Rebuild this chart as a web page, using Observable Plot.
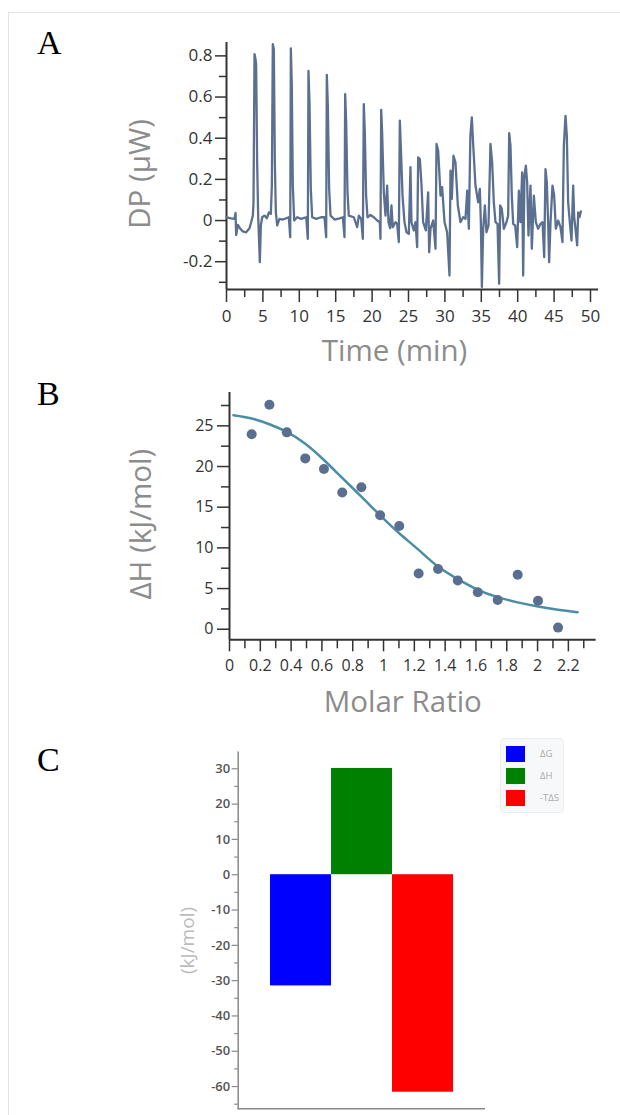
<!DOCTYPE html>
<html>
<head>
<meta charset="utf-8">
<script src="https://cdn.jsdelivr.net/npm/d3@7"></script>
<script src="https://cdn.jsdelivr.net/npm/@observablehq/plot@0.6"></script>
<style>
  body { margin: 0; background: #fff; }
  #root { position: relative; width: 620px; height: 1115px; overflow: hidden; font-family: "Open Sans", sans-serif; }
  .panel { position: absolute; left: 0; }
  .letter { position: absolute; left: 37px; font-family: "Liberation Serif", "Times New Roman", serif; font-size: 34px; line-height: 1; color: #000; }
  .frameTop { position: absolute; left: 8px; top: 12px; right: 0; border-top: 1px solid #e2e2e2; }
  .frameLeft { position: absolute; left: 8px; top: 12px; bottom: 0; border-left: 1px solid #e2e2e2; }
  .legend { position: absolute; left: 500px; top: 738px; width: 64px; height: 75px; box-sizing: border-box;
            background: #f7f8fa; border: 1px solid #eceef1; border-radius: 4px; }
  .legend .item { position: absolute; left: 5px; height: 17px; display: flex; align-items: center; }
  .legend .sw { width: 19px; height: 16px; }
  .legend .lb { margin-left: 15px; font-size: 9.5px; color: #aaa; font-family: "Open Sans", sans-serif; }
</style>
</head>
<body>
<div id="root">
  <div class="frameTop"></div>
  <div class="frameLeft"></div>
  <div class="letter" style="top:26px">A</div>
  <div class="letter" style="top:377px">B</div>
  <div class="letter" style="top:743px">C</div>
  <div id="pA" class="panel" style="top:0px"></div>
  <div id="pB" class="panel" style="top:350px"></div>
  <div id="pC" class="panel" style="top:720px"></div>
  <div id="legend" class="legend"></div>
</div>
<script>
// ---------- Panel A: raw ITC thermogram ----------
const dpTime = [0,0.64,1.10,1.24,1.33,1.56,1.9,2.24,2.70,3.16,3.39,3.62,3.71,3.85,3.96,4.07,4.21,4.35,4.58,4.72,4.90,5.22,5.54,5.82,6.09,6.23,6.36,6.50,6.64,6.78,6.96,7.28,7.74,8.2,8.56,8.75,8.84,8.97,9.11,9.30,9.71,10.26,10.95,11.17,11.26,11.40,11.58,11.77,12.32,13.0,13.46,13.69,13.78,13.92,14.10,14.29,14.84,15.52,15.98,16.21,16.30,16.44,16.62,16.80,17.49,17.95,18.18,18.50,18.73,18.86,19.0,19.18,19.37,19.78,20.24,20.70,21.06,21.15,21.25,21.38,21.61,21.84,22.07,22.25,22.48,22.66,22.84,23.21,23.44,23.67,23.81,23.94,24.18,24.45,24.73,25.05,25.27,25.41,25.73,25.96,26.19,26.33,26.56,26.79,27.01,27.38,27.70,27.84,28.02,28.39,28.71,28.85,29.08,29.40,29.62,29.95,30.31,30.63,30.77,30.95,31.18,31.45,31.78,32.14,32.51,32.83,33.06,33.29,33.50,33.70,33.90,34.2,34.57,34.80,34.94,35.08,35.26,35.49,35.71,35.99,36.26,36.49,36.72,36.95,37.23,37.45,37.59,37.82,38.10,38.46,38.69,38.83,39.01,39.19,39.38,39.65,39.93,40.16,40.38,40.61,40.75,40.93,41.12,41.30,41.48,41.76,41.94,42.22,42.49,42.81,43.13,43.41,43.64,43.82,44.0,44.18,44.32,44.51,44.78,45.01,45.24,45.56,45.88,46.15,46.34,46.57,46.75,46.93,47.16,47.39,47.62,47.76,47.94,48.17,48.31,48.49,48.67];
const dpValue = [0.016,0.011,0.008,0.037,-0.07,-0.021,-0.04,-0.053,-0.057,-0.037,-0.008,0.024,0.089,0.808,0.79,0.76,0.283,0.024,-0.202,-0.024,0.016,0.024,0.011,0.04,0.032,0.17,0.857,0.832,0.283,0.04,-0.024,0.008,0.005,0.011,0.016,-0.081,0.836,0.655,0.17,0.0,0.016,0.008,0.016,-0.089,0.727,0.574,0.154,0.016,0.008,0.016,0.016,-0.081,0.708,0.558,0.154,0.024,0.005,0.011,0.016,-0.081,0.614,0.477,0.137,0.024,0.016,-0.032,0.024,0.008,-0.089,0.566,0.428,0.121,0.016,0.027,0.016,0.0,-0.008,-0.089,0.538,0.428,0.137,0.024,0.17,-0.008,-0.037,0.073,-0.032,-0.008,-0.016,-0.105,0.485,0.364,0.121,-0.008,-0.057,-0.065,0.259,-0.008,-0.048,-0.008,-0.129,0.307,0.299,0.17,-0.008,-0.048,0.137,-0.154,-0.04,0.0,-0.137,0.372,0.339,0.121,0.162,-0.008,-0.057,-0.267,0.242,0.105,0.315,0.283,0.073,-0.008,0.016,0.008,0.145,-0.04,0.412,0.501,0.36,0.17,0.089,0.154,-0.008,-0.323,-0.04,0.073,-0.057,-0.024,0.372,0.283,0.089,-0.008,-0.016,-0.307,0.073,0.057,-0.04,-0.008,0.024,0.425,0.364,0.121,-0.016,-0.024,-0.129,0.145,-0.008,0.234,-0.267,0.218,0.267,0.186,-0.073,0.17,-0.137,0.121,-0.008,-0.04,-0.016,-0.008,-0.178,0.25,0.186,-0.008,-0.202,-0.008,0.17,0.121,-0.04,0.0,-0.032,-0.105,0.364,0.509,0.412,0.089,-0.008,-0.097,0.17,0.016,-0.04,-0.121,0.04,0.016,0.044];
const timeDomain = [0, 51.1];
const dpDomain = [-0.335, 0.865];
const timeTicks = [0,5,10,15,20,25,30,35,40,45,50];
const timeMinorTicks = [2.5,7.5,12.5,17.5,22.5,27.5,32.5,37.5,42.5,47.5];
const dpTicks = [-0.2,0,0.2,0.4,0.6,0.8];
const dpMinorTicks = [-0.3,-0.1,0.1,0.3,0.5,0.7];

// ---------- Panel B: integrated heats ----------
const molarRatio = [0.144,0.259,0.372,0.492,0.613,0.732,0.856,0.978,1.102,1.228,1.354,1.482,1.612,1.741,1.871,2.003,2.133];
const deltaH = [23.96,27.6,24.2,21.0,19.7,16.8,17.45,14.0,12.7,6.85,7.4,6.0,4.55,3.6,6.7,3.5,0.2];
const fitRatio = [0.026,0.144,0.259,0.372,0.492,0.613,0.732,0.856,0.978,1.102,1.228,1.354,1.482,1.612,1.741,1.871,2.003,2.133,2.26];
const fitDeltaH = [26.3,25.9,25.2,24.25,22.8,20.8,18.6,16.3,14.0,11.8,9.75,7.7,6.15,4.85,3.95,3.3,2.8,2.4,2.1];
const ratioDomain = [0, 2.38];
const dHDomain = [-1.3, 29.1];
const ratioTicks = [0,0.2,0.4,0.6,0.8,1,1.2,1.4,1.6,1.8,2,2.2];
const ratioMinorTicks = [0.1,0.3,0.5,0.7,0.9,1.1,1.3,1.5,1.7,1.9,2.1,2.3];
const dHTicks = [0,5,10,15,20,25];
const dHMinorTicks = [2.5,7.5,12.5,17.5,22.5,27.5];

// ---------- Panel C: thermodynamic signature ----------
const thermoTerms = ["ΔG","ΔH","-TΔS"];
const thermoValues = [-31.5, 30.1, -61.6];
const thermoColors = ["#0000ff","#008000","#ff0000"];
const energyDomain = [-66.3, 34.7];
const energyTicks = [-60,-50,-40,-30,-20,-10,0,10,20,30];
const energyMinorTicks = [-65,-55,-45,-35,-25,-15,-5,5,15,25];

const fmt = d => String(d);
const axisInk = "#333";
const labelInk = "#8c8c8c";
const titleSize = 29.5;

// Panel A
const dpData = dpTime.map((t, i) => ({t, v: dpValue[i]}));
const plotA = Plot.plot({
  width: 620, height: 370,
  marginLeft: 226, marginRight: 22, marginTop: 42, marginBottom: 81,
  x: {domain: timeDomain, label: null},
  y: {domain: dpDomain, label: null},
  style: {fontFamily: "'Open Sans', sans-serif", color: axisInk, background: "transparent", overflow: "visible"},
  marks: [
    Plot.axisY(dpMinorTicks, {tickSize: 7, tickFormat: () => "", label: null, strokeWidth: 1.5}),
    Plot.axisY(dpTicks, {tickSize: 11, tickPadding: 3, tickFormat: fmt, fontSize: 17, label: null, strokeWidth: 1.5}),
    Plot.axisX(timeMinorTicks, {tickSize: 8, tickFormat: () => "", label: null, strokeWidth: 1.5}),
    Plot.axisX(timeTicks, {tickSize: 13, tickPadding: 7, tickFormat: fmt, fontSize: 17, label: null, strokeWidth: 1.5}),
    Plot.ruleX([timeDomain[0]], {stroke: axisInk, strokeWidth: 2}),
    Plot.ruleY([dpDomain[0]], {stroke: axisInk, strokeWidth: 2}),
    Plot.line(dpData, {x: "t", y: "v", stroke: "#5b7090", strokeWidth: 2.3, strokeLinejoin: "round"}),
    Plot.text(["DP (μW)"], {text: d => d, frameAnchor: "left", textAnchor: "middle", lineAnchor: "middle", dx: -86, dy: 8, rotate: -90, fontSize: titleSize, fill: labelInk}),
    Plot.text(["Time (min)"], {text: d => d, frameAnchor: "bottom", textAnchor: "middle", lineAnchor: "middle", dx: -18, dy: 62, fontSize: titleSize, fill: labelInk})
  ]
});
document.getElementById("pA").appendChild(plotA);

// Panel B
const pts = molarRatio.map((m, i) => ({m, h: deltaH[i]}));
const fit = fitRatio.map((m, i) => ({m, h: fitDeltaH[i]}));
const plotB = Plot.plot({
  width: 620, height: 370,
  marginLeft: 229, marginRight: 24.4, marginTop: 42, marginBottom: 80.7,
  x: {domain: ratioDomain, label: null},
  y: {domain: dHDomain, label: null},
  style: {fontFamily: "'Open Sans', sans-serif", color: axisInk, background: "transparent", overflow: "visible"},
  marks: [
    Plot.axisY(dHMinorTicks, {tickSize: 8, tickFormat: () => "", label: null, strokeWidth: 1.5}),
    Plot.axisY(dHTicks, {tickSize: 12, tickPadding: 4, tickFormat: fmt, fontSize: 16, label: null, strokeWidth: 1.5}),
    Plot.axisX(ratioMinorTicks, {tickSize: 9, tickFormat: () => "", label: null, strokeWidth: 1.5}),
    Plot.axisX(ratioTicks, {tickSize: 12, tickPadding: 8, tickFormat: fmt, fontSize: 16, label: null, strokeWidth: 1.5}),
    Plot.ruleX([ratioDomain[0]], {stroke: axisInk, strokeWidth: 2}),
    Plot.ruleY([dHDomain[0]], {stroke: axisInk, strokeWidth: 2}),
    Plot.line(fit, {x: "m", y: "h", stroke: "#4a8da6", strokeWidth: 2.5, curve: "natural"}),
    Plot.dot(pts, {x: "m", y: "h", r: 5, fill: "#5a6e8f"}),
    Plot.text(["ΔH (kJ/mol)"], {text: d => d, frameAnchor: "left", textAnchor: "middle", lineAnchor: "middle", dx: -88, dy: 8, rotate: -90, fontSize: titleSize, fill: labelInk}),
    Plot.text(["Molar Ratio"], {text: d => d, frameAnchor: "bottom", textAnchor: "middle", lineAnchor: "middle", dx: -10, dy: 63, fontSize: titleSize, fill: labelInk})
  ]
});
document.getElementById("pB").appendChild(plotB);

// Panel C
const thermo = thermoTerms.map((term, i) => ({term, value: thermoValues[i]}));
const plotC = Plot.plot({
  width: 620, height: 395,
  marginLeft: 237.7, marginRight: 135, marginTop: 31.7, marginBottom: 6.7,
  x: {type: "band", domain: thermoTerms, paddingInner: 0, paddingOuter: 0.5, label: null, axis: null},
  y: {domain: energyDomain, label: null},
  color: {domain: thermoTerms, range: thermoColors},
  style: {fontFamily: "'Open Sans', sans-serif", color: "#888", background: "transparent", overflow: "visible"},
  marks: [
    Plot.barY(thermo, {x: "term", y: "value", fill: "term", inset: 0}),
    Plot.axisY(energyMinorTicks, {tickSize: 3.5, tickFormat: () => "", label: null, strokeWidth: 1.2}),
    Plot.axisY(energyTicks, {tickSize: 6, tickPadding: 2, tickFormat: fmt, fontSize: 13, fontWeight: 600, fill: "#555", label: null, strokeWidth: 1.2}),
    Plot.frame({anchor: "left", stroke: "#888", strokeWidth: 1.5}),
    Plot.ruleY([energyDomain[0]], {stroke: "#888", strokeWidth: 1.5}),
    Plot.text(["(kJ/mol)"], {text: d => d, frameAnchor: "left", textAnchor: "middle", lineAnchor: "middle", dx: -50, dy: 10, rotate: -90, fontSize: 19, fill: "#bbb"})
  ]
});
document.getElementById("pC").appendChild(plotC);

// Legend (HTML)
const legend = document.getElementById("legend");
thermoTerms.forEach((term, i) => {
  const item = document.createElement("div");
  item.className = "item";
  item.style.top = (6 + i * 22) + "px";
  item.innerHTML = `<div class="sw" style="background:${thermoColors[i]}"></div><div class="lb">${term}</div>`;
  legend.appendChild(item);
});
</script>
</body>
</html>
